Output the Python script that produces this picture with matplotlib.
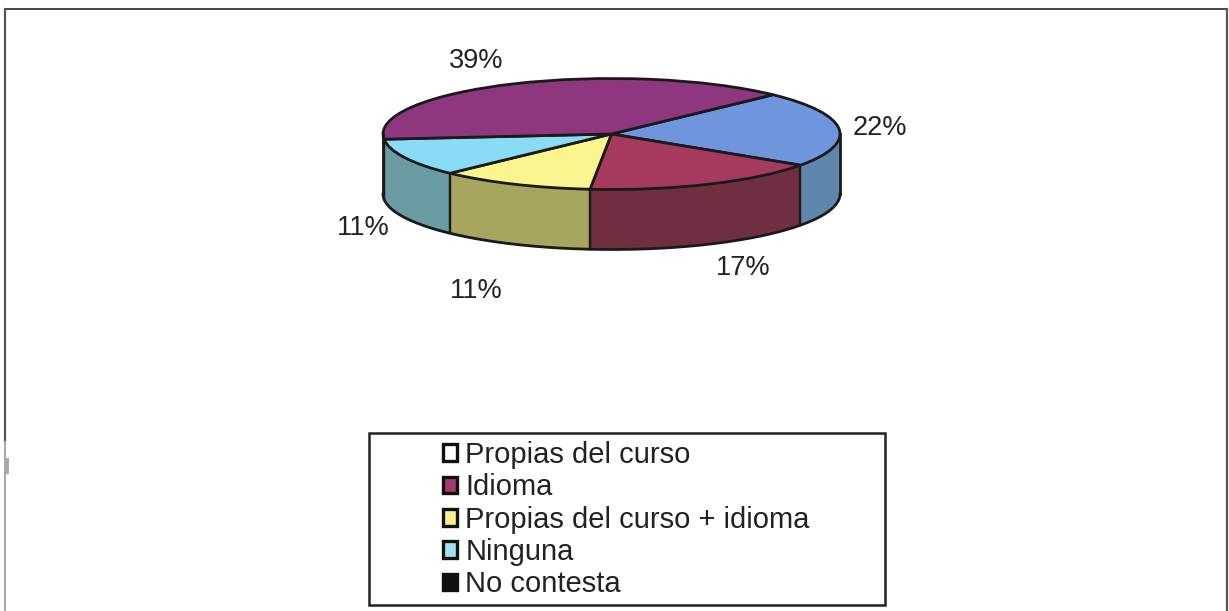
import numpy as np
import matplotlib
matplotlib.use("Agg")
import matplotlib.pyplot as plt
from matplotlib.patches import Patch, Rectangle

categories = ["Propias del curso", "Idioma", "Propias del curso + idioma", "Ninguna", "No contesta"]
values = [22, 17, 11, 11, 39]
top_colors = ["#6F96DC", "#A63A5E", "#FAF58E", "#8ADCF6", "#8E377F"]
side_colors = ["#5F86AC", "#6F2F40", "#A8A55E", "#6A9DA3", "#5A2050"]
legend_colors = ["#FFFFFF", "#A63A6E", "#F7F08C", "#A5E0F0", "#111111"]
pct_labels = ["22%", "17%", "11%", "11%", "39%"]
label_px = [(880, 128), (743, 268), (476, 291), (363, 228), (476, 61)]

W, H = 1229, 611
START = 45
plt.rcParams["font.family"] = ["Liberation Sans", "DejaVu Sans"]
fig = plt.figure(figsize=(W / 100, H / 100), dpi=100, facecolor="white")

# page axes in pixel units
page = fig.add_axes([0, 0, 1, 1])
page.set_xlim(0, W)
page.set_ylim(H, 0)
page.axis("off")

# pie axes: unit ellipse mapped to the pixel ellipse
cx, cy, rx, ry, depth_px = 611.5, 134, 228.5, 55.5, 60
depth = depth_px / ry
x0, x1 = cx - rx, cx + rx
ytop, ybot = cy - ry, cy + ry + depth_px
axp = fig.add_axes([x0 / W, 1 - ybot / H, (x1 - x0) / W, (ybot - ytop) / H])
axp.axis("off")

edges = START - np.cumsum([0] + values) * 3.6
for i in range(len(values)):
    a0, a1 = edges[i], edges[i + 1]
    t = np.radians(np.linspace(a0, a1, 200))
    mask = np.sin(t) <= 0
    if mask.any():
        axp.fill_between(np.cos(t[mask]), np.sin(t[mask]), np.sin(t[mask]) - depth,
                         color=side_colors[i], lw=0, zorder=1, clip_on=False)
    for a in (a0, a1):
        r = np.radians(a)
        if np.sin(r) < 0:
            axp.plot([np.cos(r)] * 2, [np.sin(r), np.sin(r) - depth], color="#1a1a1a",
                     lw=1.6, zorder=2, clip_on=False)

wedges, _ = axp.pie(values, colors=top_colors, startangle=START, counterclock=False, radius=1,
                    wedgeprops=dict(edgecolor="#1a1a1a", linewidth=2.0, zorder=3))
for w in wedges:
    w.set_clip_on(False)
axp.set_aspect("auto")
axp.set_xlim(-1, 1)
axp.set_ylim(-1 - depth, 1)

# outer rim of the side wall
t = np.radians(np.linspace(180, 360, 300))
axp.plot(np.cos(t), np.sin(t) - depth, color="#1a1a1a", lw=2.0, zorder=4, clip_on=False)
axp.plot([-1, -1], [0, -depth], color="#1a1a1a", lw=2.0, zorder=4, clip_on=False)
axp.plot([1, 1], [0, -depth], color="#1a1a1a", lw=2.0, zorder=4, clip_on=False)

for lab, (px, py) in zip(pct_labels, label_px):
    page.text(px, py, lab, ha="center", va="center", fontsize=19.5, color="#222222")

# scanned outer frame
page.plot([5, 1227], [9, 9], color="#444444", lw=1.4)
page.plot([1227, 1227], [9, H], color="#555555", lw=1.6)
page.plot([5, 5], [9, 442], color="#555555", lw=1.6)
page.plot([5, 5], [442, H], color="#aaaaaa", lw=1.5)
page.add_patch(Rectangle((5, 458), 4, 16, fc="#aaaaaa", ec="none"))

# legend
page.add_patch(Rectangle((369, 433), 516, 172, fc="white", ec="#222222", lw=1.8, zorder=5))
handles = [Patch(fc=c, ec="#111111", lw=2.4) for c in legend_colors]
leg = page.legend(handles, categories, loc="upper left", frameon=False,
                  bbox_to_anchor=(437 / W, 1 - 435 / H), bbox_transform=fig.transFigure,
                  fontsize=21, labelspacing=0.15, handlelength=0.5, handleheight=0.5,
                  handletextpad=0.27, borderpad=0.2, borderaxespad=0, labelcolor="#222222")
leg.set_zorder(6)

fig.savefig("out.png", dpi=100, facecolor="white")
